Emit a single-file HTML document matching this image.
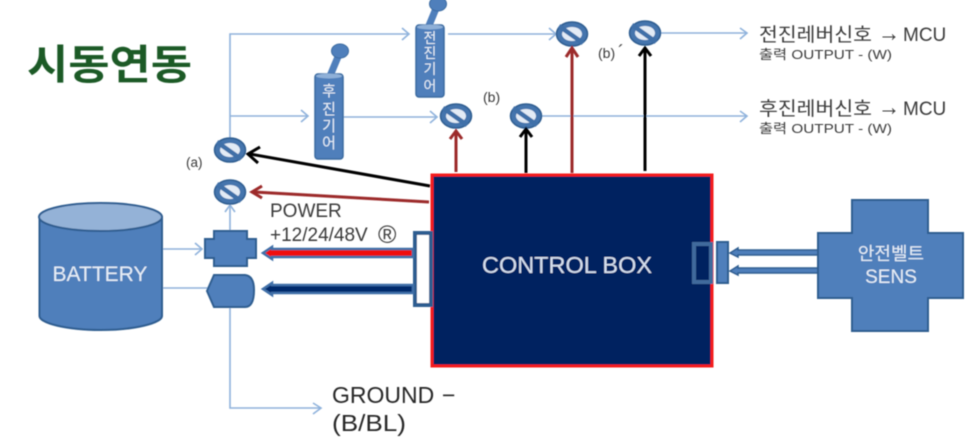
<!DOCTYPE html>
<html><head><meta charset="utf-8"><style>
html,body{margin:0;padding:0;background:#fff;width:968px;height:440px;overflow:hidden}
svg{display:block}
text{font-family:"Liberation Sans","Noto Sans CJK KR",sans-serif}
</style></head><body>
<svg width="968" height="440" viewBox="0 0 968 440" xmlns="http://www.w3.org/2000/svg">
<defs>
<filter id="b" x="-5%" y="-5%" width="110%" height="110%"><feGaussianBlur stdDeviation="0.55"/></filter>
<g id="sw">
<ellipse cx="0" cy="0" rx="15.500" ry="12" fill="#4474ad" stroke="#2f5d90" stroke-width="1.500"/>
<ellipse cx="0" cy="0" rx="10" ry="7" fill="#e3ebf5"/>
<path d="M-13,-8 L11,9" stroke="#3f6fa8" stroke-width="4.500"/>
</g>
</defs>
<rect width="968" height="440" fill="#fff"/>
<g filter="url(#b)">
<text x="27" y="79" font-size="41" font-weight="bold" fill="#1b5a26" textLength="165" lengthAdjust="spacingAndGlyphs">시동연동</text>

<!-- light blue connectors -->
<g fill="none" stroke="#8fb2dc" stroke-width="1.600">
<path d="M230,138 V34 H409"/><path d="M402,28 L409,34 L402,40"/>
<path d="M230,116 H308"/><path d="M301,110 L308,116 L301,122"/>
<path d="M343,117 H437"/><path d="M430,111 L437,117 L430,123"/>
<path d="M448,34 H556"/><path d="M549,28 L556,34 L549,40"/>
<path d="M661,33 H747"/><path d="M740,28 L747,33 L740,39"/>
<path d="M541,116 H747"/><path d="M740,111 L747,116 L740,122"/>
<path d="M230,231 V205"/><path d="M225,212 L230,205 L235,212"/>
<path d="M162,249 H202"/><path d="M195,243 L202,249 L195,255"/>
<path d="M162,288 H208"/>
<path d="M230,308 V408 H320"/><path d="M313,403 L321,408 L313,414"/>
</g>

<!-- levers -->
<path d="M330,76 L340,52" stroke="#4f7fbb" stroke-width="7"/>
<ellipse cx="340" cy="51" rx="8.500" ry="7" fill="#4f7fbb" stroke="#3a6aa0"/>
<rect x="315" y="74" width="28" height="85" rx="3" fill="#4f7fbb" stroke="#3a6aa0" stroke-width="1.500"/>
<ellipse cx="329" cy="76" rx="13" ry="2.500" fill="#8fb0d8"/>
<path d="M428,28 L437,6" stroke="#4f7fbb" stroke-width="7"/>
<ellipse cx="438" cy="4" rx="8.500" ry="7" fill="#4f7fbb" stroke="#3a6aa0"/>
<rect x="416" y="25" width="28" height="72" rx="3" fill="#4f7fbb" stroke="#3a6aa0" stroke-width="1.500"/>
<ellipse cx="430" cy="27" rx="13" ry="2.500" fill="#8fb0d8"/>
<g fill="#e6eef7" font-size="15" text-anchor="middle">
<text x="329" y="96">후</text><text x="329" y="114">진</text><text x="329" y="131">기</text><text x="329" y="148">어</text>
<text x="430" y="43" font-size="14">전</text><text x="430" y="58" font-size="14">진</text><text x="430" y="74" font-size="14">기</text><text x="430" y="91" font-size="14">어</text>
</g>

<!-- switches -->
<use href="#sw" x="230" y="150"/><use href="#sw" x="230" y="192"/>
<use href="#sw" x="456" y="116"/><use href="#sw" x="526" y="116"/>
<use href="#sw" x="572" y="34"/><use href="#sw" x="645" y="33"/>

<!-- battery -->
<path d="M39.500,217 V316 C39.500,323 66,330 100.500,330 C135,330 162,323 162,316 V217 Z" fill="#4f7fbb" stroke="#2f5d90" stroke-width="2"/>
<ellipse cx="100.500" cy="217" rx="61.500" ry="14" fill="#94b2d7" stroke="#2f5d90" stroke-width="2"/>
<text x="100" y="281" font-size="21" fill="#e6eef7" text-anchor="middle">BATTERY</text>

<!-- connectors left -->
<path d="M205,239 H214 V231 H247 V239 H256 V258 H247 V266 H214 V258 H205 Z" fill="#4f7fbb" stroke="#2f5d90" stroke-width="2"/>
<path d="M214,275 H245 Q254,276 254,290 Q254,307 245,307 H214 L207,291 Z" fill="#4f7fbb" stroke="#2f5d90" stroke-width="2"/>

<!-- control box -->
<rect x="432" y="175" width="280" height="191" fill="#002060" stroke="#f41a1a" stroke-width="3"/>
<text x="567" y="273" font-size="23" fill="#d6e0ef" text-anchor="middle" textLength="170" lengthAdjust="spacingAndGlyphs">CONTROL BOX</text>
<rect x="415" y="233" width="16" height="72" fill="#fff" stroke="#2f5d90" stroke-width="4"/>

<!-- thick arrows -->
<path d="M413,249 H272 V247 L263,253 L272,259 V257 H413 Z" fill="#f01010" stroke="#3f6fa8" stroke-width="2.500"/>
<path d="M413,285 H272 V283 L263,289 L272,295 V293 H413 Z" fill="#002a6c" stroke="#3f6fa8" stroke-width="2.500"/>

<!-- black / red arrows -->
<g fill="none" stroke="#000" stroke-width="3">
<path d="M430,186 L250,154"/><path d="M260,147 L248,154 L258,163"/>
<path d="M526,173 V130"/><path d="M520,137 L526,129 L532,137"/>
<path d="M645,171 V48"/><path d="M639,56 L645,48 L651,56"/>
</g>
<g fill="none" stroke="#9c2a2a" stroke-width="3">
<path d="M429,202 L254,192"/><path d="M262,186 L252,192 L262,198"/>
<path d="M456,172 V132"/><path d="M450,139 L456,131 L462,139"/>
<path d="M572,173 V48"/><path d="M566,57 L572,48 L578,57"/>
</g>

<!-- right sensor -->
<rect x="694" y="244" width="17" height="38" fill="#002060" stroke="#3f6a9c" stroke-width="4"/>
<rect x="717" y="242" width="11" height="41" fill="#4f7fbb" stroke="#2f5d90" stroke-width="2"/>
<path d="M818,250 H738 V248 L730,253 L738,257 V255 H818 Z M818,268 H738 V266 L730,271 L738,275 V273 H818 Z" fill="#4f7fbb" stroke="#2f5d90" stroke-width="1.500"/>
<path d="M852,200 H928 V233 H963 V298 H928 V331 H852 V298 H818 V233 H852 Z" fill="#4f7fbb" stroke="#2f5d90" stroke-width="2"/>
<text x="891" y="260" font-size="18" fill="#e6eef7" text-anchor="middle">안전벨트</text>
<text x="891" y="283" font-size="19" fill="#e6eef7" text-anchor="middle">SENS</text>

<!-- labels -->
<g fill="#3a3a3a">
<text x="186" y="167" font-size="13.500">(a)</text>
<text x="483" y="102" font-size="14">(b)</text>
<text x="598" y="58" font-size="14">(b)</text>
<text x="618" y="58" font-size="18">´</text>
<text x="270" y="217" font-size="19">POWER</text>
<text x="270" y="241" font-size="19">+12/24/48V</text>
<text x="378" y="243" font-size="25">®</text>
<text x="332" y="403" font-size="23" fill="#262626">GROUND</text>
<text x="442" y="403" font-size="23" fill="#262626">−</text>
<text x="332" y="431" font-size="23" fill="#262626" textLength="74" lengthAdjust="spacingAndGlyphs">(B/BL)</text>

<text x="759" y="41" font-size="19" textLength="113" lengthAdjust="spacingAndGlyphs">전진레버신호</text>
<text x="878" y="41" font-size="24" textLength="22" lengthAdjust="spacingAndGlyphs">→</text>
<text x="903" y="41" font-size="19">MCU</text>
<text x="759" y="59" font-size="13" textLength="133" lengthAdjust="spacingAndGlyphs">출력 OUTPUT - (W)</text>
<text x="759" y="115" font-size="19" textLength="113" lengthAdjust="spacingAndGlyphs">후진레버신호</text>
<text x="878" y="115" font-size="24" textLength="22" lengthAdjust="spacingAndGlyphs">→</text>
<text x="903" y="115" font-size="19">MCU</text>
<text x="759" y="133" font-size="13" textLength="133" lengthAdjust="spacingAndGlyphs">출력 OUTPUT - (W)</text>
</g>
</g>
</svg>
</body></html>
